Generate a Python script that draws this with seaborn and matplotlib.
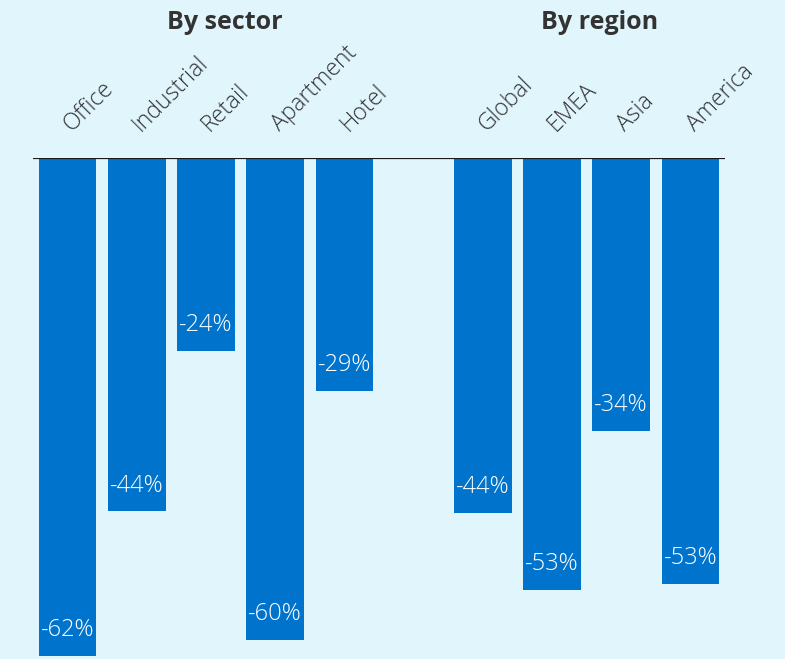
import pandas as pd
import numpy as np
import seaborn as sns
import matplotlib.pyplot as plt

# Price change by sector and by region (percent)
sectors = ['Office', 'Industrial', 'Retail', 'Apartment', 'Hotel']
sector_change = [-62, -44, -24, -60, -29]
regions = ['Global', 'EMEA', 'Asia', 'America']
region_change = [-44.2, -53.8, -34, -53]

bg = '#e1f5fd'
bar_color = '#0074cc'

sns.set_theme(style='white')
plt.rcParams['font.family'] = ['Open Sans', 'DejaVu Sans']

# blank slot between the two groups
gap = ' '
order = sectors + [gap] + regions
df = pd.DataFrame({
    'category': order,
    'change': sector_change + [np.nan] + region_change,
})

fig = plt.figure(figsize=(7.85, 6.59), dpi=100, facecolor=bg)
ax = fig.add_axes([33 / 785, 0, 692 / 785, 501 / 659])
ax.set_facecolor(bg)

sns.barplot(data=df, x='category', y='change', order=order, color=bar_color,
            saturation=1, width=0.83, linewidth=0, ax=ax)

ax.set_xlim(-0.5, len(order) - 0.5)
ax.set_ylim(-62.4, 0)
for s in ax.spines.values():
    s.set_visible(False)
ax.axhline(0, color='#1a1a1a', lw=1.6, zorder=5)

# value labels at the bottom of each bar
for i, v in enumerate(df['change']):
    if np.isnan(v):
        continue
    ax.annotate(f"{int(v)}%", (i, v), xytext=(0, 18.5), textcoords='offset points',
                ha='center', va='center', color='white', fontsize=17,
                fontweight='light')

# rotated category labels on top
ax.xaxis.tick_top()
ax.set_xticks(np.arange(len(order)) + 0.06)
ax.set_xticklabels(order, rotation=45, ha='left', va='baseline',
                   rotation_mode='anchor', fontsize=16.5, fontweight='light',
                   color='#333333')
ax.tick_params(axis='x', length=0, pad=19)
ax.set_yticks([])
ax.set_xlabel('')
ax.set_ylabel('')

# group titles
for x, title in [(2.27, 'By sector'), (7.69, 'By region')]:
    ax.text(x, 1.27, title, transform=ax.get_xaxis_transform(),
            ha='center', va='center', fontsize=18, fontweight='bold',
            color='#333333')

fig.savefig('out.png', dpi=100, facecolor=bg)
